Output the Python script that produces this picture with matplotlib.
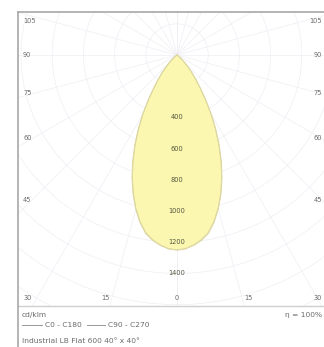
import numpy as np
import matplotlib
matplotlib.use("Agg")
import matplotlib.pyplot as plt
from matplotlib.lines import Line2D

# ---- data (cd/klm) ----
angles_deg = [0, 2.5, 5, 7.5, 10, 12.5, 15, 17.5, 20, 22.5, 25, 27.5, 30, 32.5, 35,
              37.5, 40, 42.5, 45, 47.5, 50, 55, 60, 70, 80, 90]
c0_c180 = [1250, 1244, 1225, 1198, 1160, 1098, 1022, 935, 842, 742, 640, 538, 440, 345, 262,
           200, 150, 105, 70, 42, 25, 8, 0, 0, 0, 0]
c90_c270 = [1250, 1242, 1222, 1194, 1155, 1093, 1017, 930, 837, 737, 635, 534, 436, 342, 259,
            198, 148, 104, 69, 41, 24, 8, 0, 0, 0, 0]
ring_values = [200, 400, 600, 800, 1000, 1200, 1400, 1600, 1800, 2000, 2200, 2400]
ring_labels = [400, 600, 800, 1000, 1200, 1400]
side_angle_labels = [105, 90, 75, 60, 45]
bottom_angle_labels = [30, 15, 0, 15, 30]
unit_label = "cd/klm"
legend_names = ["C0 - C180", "C90 - C270"]
eta_text = "η = 100%"
caption = "Industrial LB Flat 600 40° x 40°"

W, H = 324, 347
fig = plt.figure(figsize=(W / 100, H / 100), dpi=100)

left_px, right_px, top_px, bot_px = 18, 324, 12, 306
ox_px, oy_px = 177, 55
cd_per_px = 200 / 31.2

ax = fig.add_axes([left_px / W, (H - bot_px) / H, (right_px - left_px) / W, (bot_px - top_px) / H])
ax.set_xlim((left_px - ox_px) * cd_per_px, (right_px - ox_px) * cd_per_px)
ax.set_ylim(-(bot_px - oy_px) * cd_per_px, (oy_px - top_px) * cd_per_px)
ax.set_xticks([]); ax.set_yticks([])
for s in ["left", "right", "top"]:
    ax.spines[s].set_visible(False)
ax.spines["bottom"].set_color("#cfcfcf")
ax.spines["bottom"].set_linewidth(1.0)

grid_c = "#efeef4"
t = np.linspace(0, 2 * np.pi, 400)
for r in ring_values:
    ax.plot(r * np.sin(t), -r * np.cos(t), color=grid_c, lw=0.5, zorder=1)
for a in range(0, 181, 15):
    ar = np.radians(a)
    R = 4000
    for sgn in (-1, 1):
        ax.plot([0, sgn * R * np.sin(ar)], [0, -R * np.cos(ar)], color=grid_c, lw=0.5, zorder=1)

def lobe(vals):
    a = np.radians(np.array(angles_deg, float))
    v = np.array(vals, float)
    aa = np.concatenate([-a[::-1], a[1:]])
    vv = np.concatenate([v[::-1], v[1:]])
    return vv * np.sin(aa), -vv * np.cos(aa)

x0, y0 = lobe(c0_c180)
x1, y1 = lobe(c90_c270)
ax.fill(x0, y0, color="#fbf7b0", zorder=2, lw=0)
ax.plot(x0, y0, color="#dcd59c", lw=0.8, zorder=3)
ax.plot(x1, y1, color="#ddd7a2", lw=0.6, zorder=3)

for r in ring_labels:
    ax.text(0, -r, str(r), ha="center", va="center", fontsize=4.8, color="#55553f", zorder=4)

txt_c = "#6a6a6a"
fs = 4.8
xl = (23 - ox_px) * cd_per_px
xr = (322 - ox_px) * cd_per_px
ys_px = [21, 55, 93, 138, 200]
for lab, ypx in zip(side_angle_labels, ys_px):
    y = (oy_px - ypx) * cd_per_px
    ax.text(xl, y, str(lab), ha="left", va="center", fontsize=fs, color=txt_c)
    ax.text(xr, y, str(lab), ha="right", va="center", fontsize=fs, color=txt_c)
yb = (oy_px - 298) * cd_per_px
for lab, xpx in zip(bottom_angle_labels, [28, 105, 177, 248, 322]):
    x = (xpx - ox_px) * cd_per_px
    ha = "right" if xpx > 315 else "center"
    ax.text(x, yb, str(lab), ha=ha, va="center", fontsize=fs, color=txt_c)

bc = "#a8a8a8"
fig.add_artist(Line2D([left_px / W, left_px / W], [0, (H - top_px) / H], color=bc, lw=1.2))
fig.add_artist(Line2D([left_px / W, 1], [(H - top_px) / H, (H - top_px) / H], color=bc, lw=1.2))

def fy(ypx):
    return (H - ypx) / H

fs2 = 5.4
fig.text(22 / W, fy(315), unit_label, fontsize=fs2, color=txt_c, va="center", ha="left")
fig.text(322 / W, fy(315), eta_text, fontsize=fs2, color=txt_c, va="center", ha="right")
fig.add_artist(Line2D([22 / W, 42 / W], [fy(325), fy(325)], color="#888888", lw=0.6))
fig.text(45 / W, fy(325), legend_names[0], fontsize=fs2, color=txt_c, va="center", ha="left")
fig.add_artist(Line2D([87 / W, 105 / W], [fy(325), fy(325)], color="#888888", lw=0.6))
fig.text(108 / W, fy(325), legend_names[1], fontsize=fs2, color=txt_c, va="center", ha="left")
fig.text(22 / W, fy(341), caption, fontsize=fs2, color=txt_c, va="center", ha="left")

fig.savefig("out.png", dpi=100, facecolor="white")
